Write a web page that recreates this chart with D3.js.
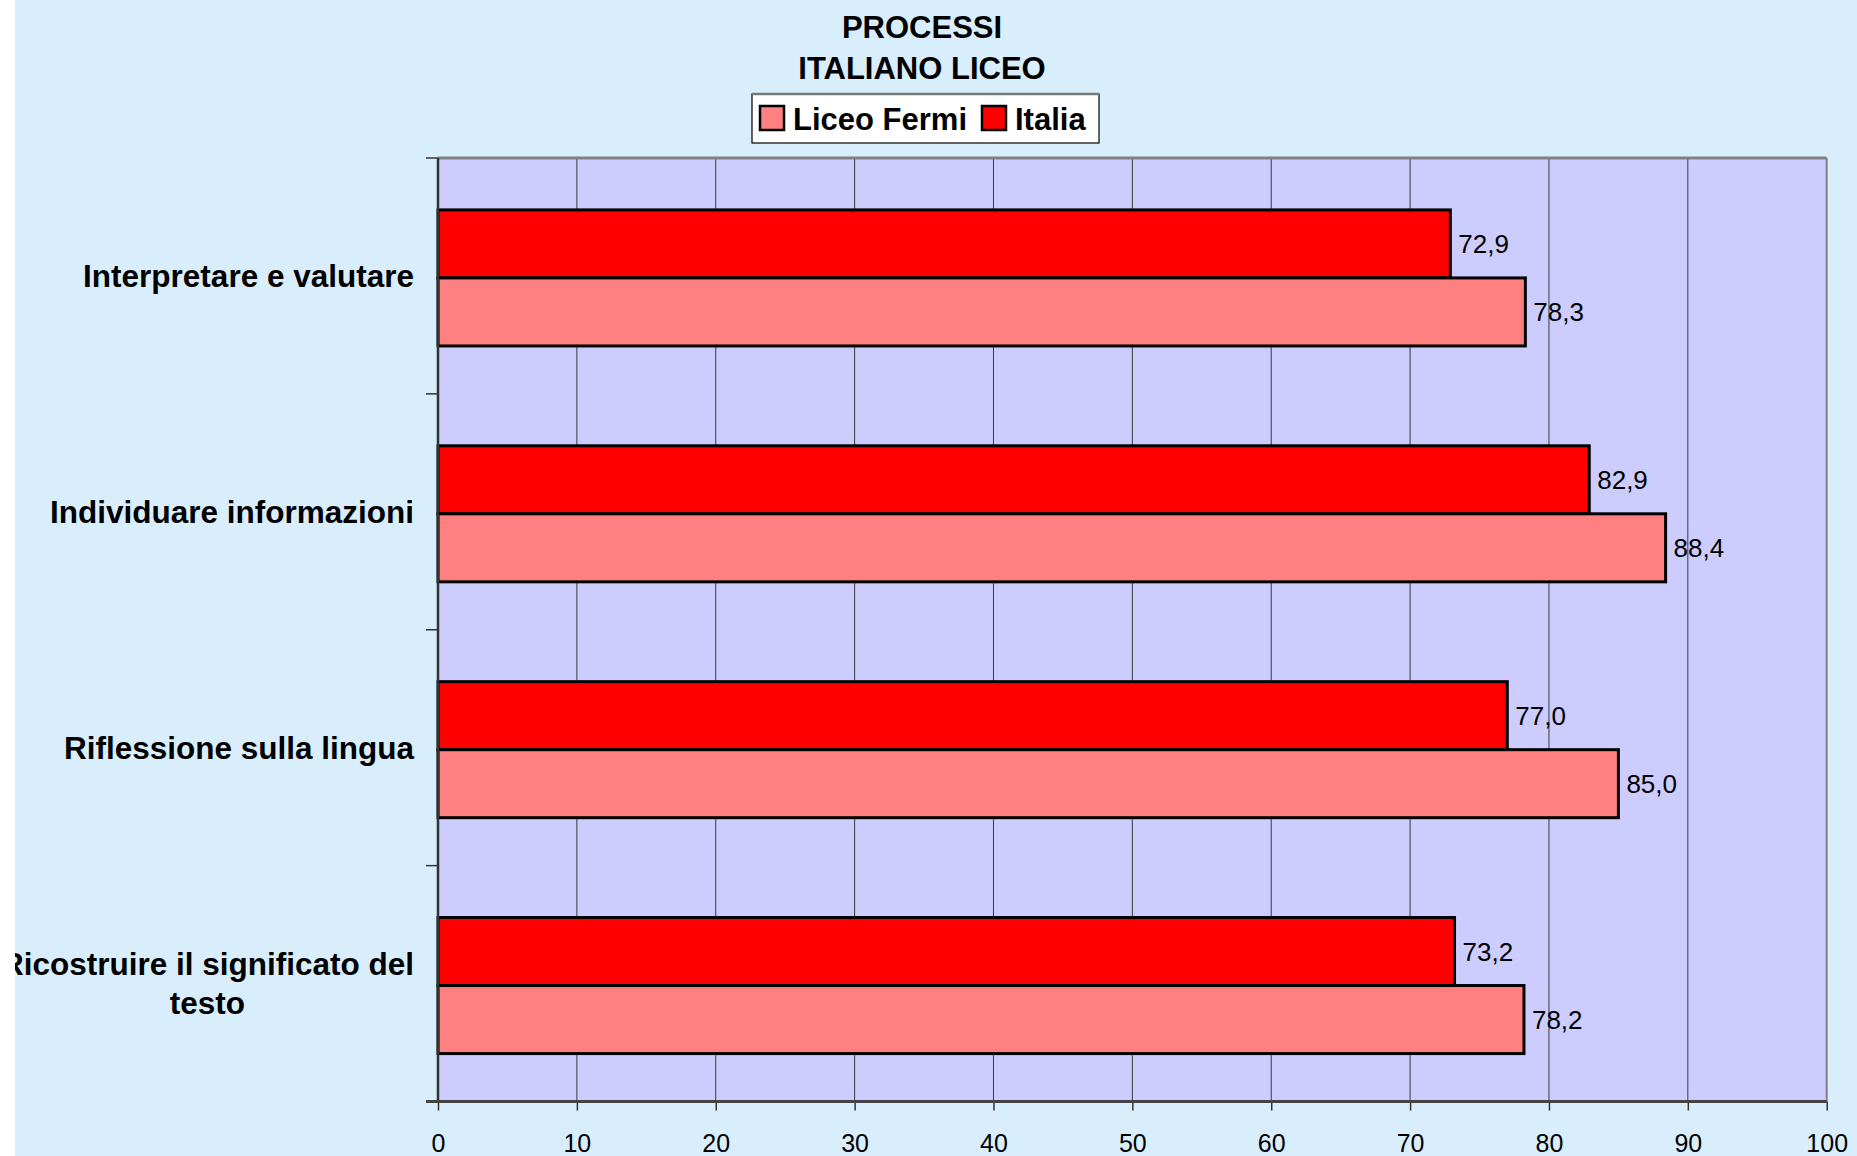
<!DOCTYPE html>
<html>
<head>
<meta charset="utf-8">
<script src="https://cdn.jsdelivr.net/npm/d3@7"></script>
<style>
  html, body { margin: 0; padding: 0; background: #ffffff; }
  svg { display: block; font-family: "Liberation Sans", Arial, sans-serif; }
</style>
</head>
<body>
<svg id="chart" width="1857" height="1156"></svg>
<script>
// ---- data ----
const titleLines = ["PROCESSI", "ITALIANO LICEO"];
const categories = [
  "Interpretare e valutare",
  "Individuare informazioni",
  "Riflessione sulla lingua",
  "Ricostruire il significato del testo"
];
const seriesNames = ["Liceo Fermi", "Italia"];
const liceoFermi = [78.3, 88.4, 85.0, 78.2];
const italia = [72.9, 82.9, 77.0, 73.2];
const xTicks = [0, 10, 20, 30, 40, 50, 60, 70, 80, 90, 100];
const seriesColors = { "Liceo Fermi": "#FF8080", "Italia": "#FF0000" };

// ---- layout ----
const svg = d3.select("#chart");
const W = 1857, H = 1156;
const plot = { left: 438, right: 1826.7, top: 158, bottom: 1101.5 };

svg.append("rect").attr("x", 0).attr("y", 0).attr("width", W).attr("height", H).attr("fill", "#ffffff");
svg.append("rect").attr("x", 15).attr("y", 0).attr("width", W - 15).attr("height", H).attr("fill", "#D9EEFD");

const defs = svg.append("defs");
defs.append("clipPath").attr("id", "areaClip")
  .append("rect").attr("x", 15).attr("y", 0).attr("width", W - 15).attr("height", H);

const x = d3.scaleLinear().domain([0, 100]).range([plot.left, plot.right]);
const y = d3.scaleBand().domain(categories).range([plot.top, plot.bottom]).padding(0);
const inner = d3.scaleBand().domain(["Italia", "Liceo Fermi"])
  .range([0, y.bandwidth()]).paddingInner(0).paddingOuter(0.734).align(0.52);

// plot area
svg.append("rect")
  .attr("x", plot.left).attr("y", plot.top)
  .attr("width", plot.right - plot.left).attr("height", plot.bottom - plot.top)
  .attr("fill", "#CCCCFF");

// gridlines
svg.append("g").selectAll("line")
  .data(xTicks.filter(t => t > 0 && t < 100))
  .join("line")
  .attr("x1", d => x(d)).attr("x2", d => x(d))
  .attr("y1", plot.top).attr("y2", plot.bottom)
  .attr("stroke", "#3a3a3a").attr("stroke-width", 1);

// plot borders
svg.append("line").attr("x1", plot.left).attr("x2", plot.right)
  .attr("y1", plot.top).attr("y2", plot.top)
  .attr("stroke", "#808080").attr("stroke-width", 3);
svg.append("line").attr("x1", plot.right).attr("x2", plot.right)
  .attr("y1", plot.top).attr("y2", plot.bottom)
  .attr("stroke", "#808080").attr("stroke-width", 2);

// bars
const rows = [];
categories.forEach((c, i) => {
  rows.push({ cat: c, series: "Italia", value: italia[i] });
  rows.push({ cat: c, series: "Liceo Fermi", value: liceoFermi[i] });
});

svg.append("g").selectAll("rect")
  .data(rows)
  .join("rect")
  .attr("x", x(0))
  .attr("y", d => y(d.cat) + inner(d.series))
  .attr("width", d => x(d.value) - x(0))
  .attr("height", inner.bandwidth())
  .attr("fill", d => seriesColors[d.series])
  .attr("stroke", "#000")
  .attr("stroke-width", 3);

// data labels
const itLocale = d3.formatLocale({ decimal: ",", thousands: ".", grouping: [3], currency: ["", "€"] });
const fmt = itLocale.format(".1f");
svg.append("g").selectAll("text")
  .data(rows)
  .join("text")
  .attr("x", d => x(d.value) + 8)
  .attr("y", d => y(d.cat) + inner(d.series) + inner.bandwidth() / 2)
  .attr("dy", "0.36em")
  .attr("font-size", 26)
  .attr("fill", "#000")
  .text(d => fmt(d.value));

// x axis
const xAxis = svg.append("g")
  .attr("transform", `translate(0,${plot.bottom})`)
  .call(d3.axisBottom(x).tickValues(xTicks).tickSize(9).tickSizeOuter(0).tickFormat(d3.format("d")));
xAxis.select(".domain").remove();
xAxis.selectAll(".tick line").attr("stroke", "#333").attr("stroke-width", 1.5);
xAxis.selectAll(".tick text")
  .attr("y", 50.5).attr("dy", 0)
  .attr("font-size", 25).attr("fill", "#000")
  .attr("font-family", "'Liberation Sans', Arial, sans-serif");

// left axis line and category ticks at band boundaries
const bounds = categories.map(c => y(c)).concat([plot.bottom]);
svg.append("g").selectAll("line")
  .data(bounds)
  .join("line")
  .attr("x1", plot.left - 12).attr("x2", plot.left)
  .attr("y1", d => d).attr("y2", d => d)
  .attr("stroke", "#333").attr("stroke-width", 1.5);
svg.append("line").attr("x1", plot.left).attr("x2", plot.left)
  .attr("y1", plot.top).attr("y2", plot.bottom)
  .attr("stroke", "#333").attr("stroke-width", 2.5);
svg.append("line").attr("x1", plot.left - 12).attr("x2", plot.right)
  .attr("y1", plot.bottom).attr("y2", plot.bottom)
  .attr("stroke", "#444").attr("stroke-width", 3);

// category labels (wrapped, right-aligned block, lines centered)
const catG = svg.append("g").attr("clip-path", "url(#areaClip)");
const labelRight = 414;
const maxW = 425;
const lineH = 39;
categories.forEach(c => {
  const t = catG.append("text")
    .attr("font-size", 31.5).attr("font-weight", "bold").attr("fill", "#000")
    .attr("text-anchor", "middle");
  // wrap words
  const words = c.split(" ");
  const lines = [];
  let cur = [];
  const probe = catG.append("text").attr("font-size", 31.5).attr("font-weight", "bold");
  words.forEach(w => {
    const test = cur.concat([w]).join(" ");
    probe.text(test);
    if (probe.node().getComputedTextLength() > maxW && cur.length) {
      lines.push(cur.join(" "));
      cur = [w];
    } else {
      cur.push(w);
    }
  });
  lines.push(cur.join(" "));
  let blockW = 0;
  lines.forEach(l => { probe.text(l); blockW = Math.max(blockW, probe.node().getComputedTextLength()); });
  probe.remove();
  const cx = labelRight - blockW / 2;
  const cy = y(c) + y.bandwidth() / 2;
  const n = lines.length;
  lines.forEach((l, i) => {
    t.append("tspan")
      .attr("x", cx)
      .attr("y", cy + (i - (n - 1) / 2) * lineH)
      .attr("dy", "0.36em")
      .text(l);
  });
});

// title
svg.append("g").selectAll("text")
  .data(titleLines)
  .join("text")
  .attr("x", 922)
  .attr("y", (d, i) => 38 + i * 41)
  .attr("text-anchor", "middle")
  .attr("font-size", 31).attr("font-weight", "bold").attr("fill", "#000")
  .text(d => d);

// legend
const lg = svg.append("g");
lg.append("rect").attr("x", 752).attr("y", 94).attr("width", 347).attr("height", 49)
  .attr("fill", "#fff").attr("stroke", "#000").attr("stroke-width", 1.2);
lg.append("line").attr("x1", 752).attr("x2", 1099).attr("y1", 94).attr("y2", 94)
  .attr("stroke", "#777").attr("stroke-width", 2.5);
const legendPos = { "Liceo Fermi": 760, "Italia": 982 };
seriesNames.forEach(s => {
  lg.append("rect").attr("x", legendPos[s]).attr("y", 106).attr("width", 24).attr("height", 24)
    .attr("fill", seriesColors[s]).attr("stroke", "#000").attr("stroke-width", 2.5);
  lg.append("text").attr("x", legendPos[s] + 33).attr("y", 130)
    .attr("font-size", 31).attr("font-weight", "bold").attr("fill", "#000")
    .text(s);
});
</script>
</body>
</html>
